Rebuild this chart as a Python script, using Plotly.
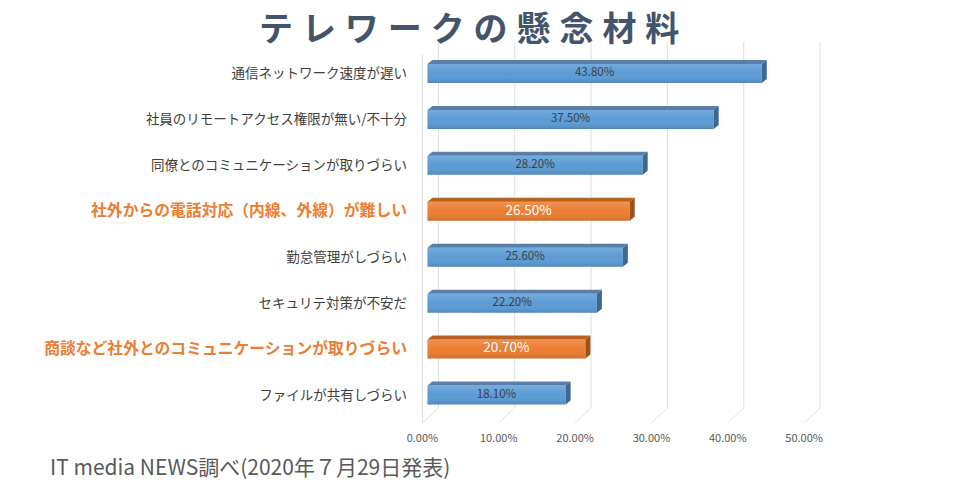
import plotly.graph_objects as go

# ---- data ----
categories = [
    "通信ネットワーク速度が遅い",
    "社員のリモートアクセス権限が無い/不十分",
    "同僚とのコミュニケーションが取りづらい",
    "社外からの電話対応（内線、外線）が難しい",
    "勤怠管理がしづらい",
    "セキュリテ対策が不安だ",
    "商談など社外とのコミュニケーションが取りづらい",
    "ファイルが共有しづらい",
]
values = [43.8, 37.5, 28.2, 26.5, 25.6, 22.2, 20.7, 18.1]
highlighted = [False, False, False, True, False, False, True, False]
tick_values = [0, 10, 20, 30, 40, 50]
tick_labels = ["0.00%", "10.00%", "20.00%", "30.00%", "40.00%", "50.00%"]
title_text = "テレワークの懸念材料"
source_text = "IT media NEWS調べ(2020年７月29日発表)"

# ---- style ----
BLUE = dict(front="#5B9BD5", top="#587EA9", side="#3D6891", text="#404040")
ORANGE = dict(front="#ED7D31", top="#B8621F", side="#9C521B", text="#FFFFFF")
GRID = "#DEDFE6"
FONT = "Noto Sans CJK JP"

W, H = 968, 492
PLOT_L, PLOT_R, PLOT_T, PLOT_B = 415.5, 832.5, 38, 426  # page pixels
PX_PER_UNIT_X = 7.65
PX_PER_UNIT_Y = 45.93
BAR_W = 19 / PX_PER_UNIT_Y
DEPTH_DX = 5 / PX_PER_UNIT_X
DEPTH_DY = 4 / PX_PER_UNIT_Y
FRONT_OFF = 5 / PX_PER_UNIT_X
BACK_OFF = 11 / PX_PER_UNIT_X
Y_FLOOR_FRONT = 7.609
Y_FLOOR_BACK = 7.283
Y_WALL_TOP = -0.686
Y_WALL_TOP_FRONT = -0.425


def paper_x(px):
    return (px - PLOT_L) / (PLOT_R - PLOT_L)


def paper_y(py):
    return 1 - (py - PLOT_T) / (PLOT_B - PLOT_T)


n = len(categories)
ys = list(range(n))

fig = go.Figure()

# gridlines (3D back wall + floor), drawn below the bars
shapes = []
for v in tick_values:
    path = (f"M {v + BACK_OFF},{Y_WALL_TOP} L {v + BACK_OFF},{Y_FLOOR_BACK} "
            f"L {v - FRONT_OFF},{Y_FLOOR_FRONT}")
    shapes.append(dict(type="path", path=path, xref="x", yref="y", layer="below",
                       line=dict(color=GRID, width=1)))
x0 = tick_values[0] - FRONT_OFF
shapes.append(dict(type="line", x0=x0, x1=x0, y0=Y_WALL_TOP_FRONT, y1=Y_FLOOR_FRONT,
                   xref="x", yref="y", layer="below", line=dict(color=GRID, width=1)))

# front faces
front_colors = [ORANGE["front"] if h else BLUE["front"] for h in highlighted]
fig.add_trace(go.Bar(x=values, y=ys, orientation="h", base=0, width=BAR_W,
                     marker=dict(color=front_colors, line=dict(width=0)),
                     hoverinfo="skip", showlegend=False))

# gradient overlays on front faces
for v, y in zip(values, ys):
    fig.add_trace(go.Scatter(
        x=[0, v, v, 0, 0], y=[y - BAR_W / 2, y - BAR_W / 2, y + BAR_W / 2, y + BAR_W / 2, y - BAR_W / 2],
        mode="lines", line=dict(width=0), fill="toself",
        fillgradient=dict(type="vertical",
                          colorscale=[[0, "rgba(0,0,0,0.13)"], [0.5, "rgba(255,255,255,0.0)"],
                                      [1, "rgba(255,255,255,0.16)"]]),
        hoverinfo="skip", showlegend=False))

# top and side faces
for key in ["top", "side"]:
    for pal, flag in [(BLUE, False), (ORANGE, True)]:
        px, py = [], []
        for v, y, h in zip(values, ys, highlighted):
            if h != flag:
                continue
            yt, yb = y - BAR_W / 2, y + BAR_W / 2
            if key == "top":
                px += [0, v, v + DEPTH_DX, DEPTH_DX, 0, None]
                py += [yt, yt, yt - DEPTH_DY, yt - DEPTH_DY, yt, None]
            else:
                px += [v, v + DEPTH_DX, v + DEPTH_DX, v, v, None]
                py += [yt, yt - DEPTH_DY, yb - DEPTH_DY, yb, yt, None]
        fig.add_trace(go.Scatter(x=px, y=py, mode="lines", line=dict(width=0),
                                 fill="toself", fillcolor=pal[key],
                                 hoverinfo="skip", showlegend=False))

# value labels
for v, y, h in zip(values, ys, highlighted):
    pal = ORANGE if h else BLUE
    fig.add_trace(go.Scatter(x=[v / 2], y=[y], mode="text", text=[f"{v:.2f}%"],
                             textfont=dict(color=pal["text"], size=13.5 if h else 11.5, family=FONT),
                             hoverinfo="skip", showlegend=False))

ticktext = []
for c, h in zip(categories, highlighted):
    if h:
        ticktext.append(f"<span style='color:#ED7D31;font-size:15.8px'><b>{c}</b></span>")
    else:
        ticktext.append(c)

title_spaced = "\u2009\u200a".join(title_text)

fig.update_layout(
    width=W, height=H,
    margin=dict(l=PLOT_L, r=W - PLOT_R, t=PLOT_T, b=H - PLOT_B, autoexpand=False),
    paper_bgcolor="white", plot_bgcolor="white",
    font=dict(family=FONT, color="#404040"),
    shapes=shapes,
    xaxis=dict(range=[-1.5, 53], showgrid=False, zeroline=False, showline=False,
               tickvals=[t - FRONT_OFF for t in tick_values], ticktext=tick_labels,
               tickfont=dict(size=11, color="#595959"), ticks="", ticklabelstandoff=4,
               automargin=False, fixedrange=True),
    yaxis=dict(range=[7.675, -0.773], showgrid=False, zeroline=False, showline=False,
               tickvals=ys, ticktext=ticktext, tickfont=dict(size=13.5, color="#404040"),
               ticks="", ticklabelstandoff=8, automargin=False, fixedrange=True),
    annotations=[
        dict(text=f"<b>{title_spaced}</b>",
             x=paper_x(468.5), y=paper_y(0), xref="paper", yref="paper",
             xanchor="center", yanchor="top", showarrow=False,
             font=dict(size=34, color="#44546A", family=FONT)),
        dict(text=source_text, x=paper_x(47), y=paper_y(466), xref="paper", yref="paper",
             xanchor="left", yanchor="middle", showarrow=False,
             font=dict(size=21, color="#595959", family=FONT)),
    ],
)

fig.write_html("out.html", config={"displayModeBar": False},
               post_script="document.body.style.margin='0';")
